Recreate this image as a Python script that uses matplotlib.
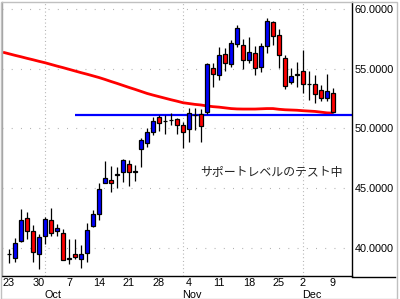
import matplotlib
matplotlib.use("Agg")
import matplotlib.pyplot as plt
from matplotlib.patches import Rectangle
from matplotlib.lines import Line2D
import matplotlib.transforms as mtransforms

plt.rcParams['font.family'] = ['Liberation Sans', 'DejaVu Sans']

# Trading days (Sep 23 2013 .. Dec 9 2013)
dates = ["09-23", "09-24", "09-25", "09-26", "09-27",
         "09-30", "10-01", "10-02", "10-03", "10-04",
         "10-07", "10-08", "10-09", "10-10", "10-11",
         "10-14", "10-15", "10-16", "10-17", "10-18",
         "10-21", "10-22", "10-23", "10-24", "10-25",
         "10-28", "10-29", "10-30", "10-31", "11-01",
         "11-04", "11-05", "11-06", "11-07", "11-08",
         "11-11", "11-12", "11-13", "11-14", "11-15",
         "11-18", "11-19", "11-20", "11-21", "11-22",
         "11-25", "11-26", "11-27", "11-29",
         "12-02", "12-03", "12-04", "12-05", "12-06",
         "12-09"]

opens = [39.45, 39.10, 40.53, 42.46, 41.37, 39.49, 41.00, 42.29, 41.42, 41.20,
         39.05, 39.49, 39.02, 39.52, 41.84, 42.79, 45.44, 45.67, 46.12, 46.36,
         46.98, 46.38, 48.24, 48.79, 49.66, 50.92, 50.59, 50.70, 50.75, 50.28,
         49.92, 51.10, 51.17, 51.34, 55.03, 54.44, 56.20, 55.36, 57.04, 56.96,
         55.70, 56.29, 55.11, 56.92, 58.89, 57.80, 55.87, 53.91, 54.48, 54.80,
         53.74, 53.71, 53.21, 52.51, 52.93]
highs = [39.86, 40.78, 43.21, 42.98, 41.90, 41.11, 42.59, 43.30, 41.95, 41.53,
         40.70, 40.70, 40.24, 42.04, 43.15, 45.39, 47.26, 46.84, 46.76, 47.40,
         47.34, 46.92, 49.21, 50.00, 50.92, 51.12, 51.12, 51.26, 50.84, 50.55,
         51.68, 51.68, 51.60, 55.50, 55.45, 56.79, 56.71, 57.40, 58.66, 57.46,
         57.63, 56.90, 57.12, 59.22, 59.02, 58.32, 56.14, 55.03, 55.58, 56.56,
         54.80, 54.47, 53.63, 54.55, 53.35]
lows = [38.74, 38.82, 40.45, 40.72, 38.82, 38.23, 40.33, 41.00, 41.00, 38.95,
        38.60, 39.07, 38.32, 38.82, 41.75, 42.31, 45.40, 44.69, 45.02, 45.52,
        45.19, 45.58, 46.78, 48.46, 49.44, 49.77, 49.50, 50.28, 49.50, 48.32,
        48.88, 49.86, 48.90, 51.17, 53.49, 54.05, 54.83, 55.11, 56.84, 54.97,
        55.45, 54.44, 54.74, 56.34, 56.96, 55.03, 53.27, 53.69, 53.49, 52.93,
        52.37, 52.10, 52.31, 52.31, 51.26]
closes = [39.49, 40.39, 42.29, 41.37, 39.61, 40.86, 42.37, 41.20, 41.62, 38.99,
          39.10, 39.24, 39.49, 41.45, 42.82, 44.89, 45.83, 45.44, 46.16, 47.34,
          46.36, 46.42, 49.02, 49.69, 50.59, 50.47, 50.63, 50.74, 50.25, 49.72,
          51.26, 51.14, 50.22, 55.36, 54.53, 56.12, 55.45, 57.12, 58.38, 55.70,
          56.37, 55.03, 56.87, 58.99, 57.71, 56.14, 53.52, 54.36, 54.52, 53.74,
          53.72, 52.85, 52.57, 53.13, 51.39]

# moving average (first value belongs to the trading day before Sep 23)
ma_prev = 56.38
ma = [56.25, 56.12, 56.00, 55.87, 55.75, 55.62, 55.50, 55.36, 55.22, 55.09,
      54.95, 54.81, 54.67, 54.54, 54.40, 54.26, 54.10, 53.93, 53.77, 53.60,
      53.43, 53.27, 53.10, 52.93, 52.79, 52.66, 52.53, 52.40, 52.28, 52.15,
      52.08, 52.01, 51.96, 51.88, 51.82, 51.78, 51.72, 51.66, 51.63, 51.62,
      51.62, 51.62, 51.64, 51.66, 51.66, 51.60, 51.56, 51.54, 51.52, 51.48,
      51.45, 51.42, 51.36, 51.30, 51.28]

support_level = 51.15
support_start = "10-08"

annotation = "サポートレベルのテスト中"
annotation_date = "11-06"
annotation_value = 46.34

week_labels = ["23", "30", "7", "14", "21", "28", "4", "11", "18", "25", "2", "9"]
week_dates = ["09-23", "09-30", "10-07", "10-14", "10-21", "10-28",
              "11-04", "11-11", "11-18", "11-25", "12-02", "12-09"]
month_labels = ["Oct", "Nov", "Dec"]
month_dates = ["10-01", "11-01", "12-02"]
y_ticks = [40, 45, 50, 55, 60]

W, H = 400, 299
fig = plt.figure(figsize=(W / 100, H / 100), dpi=100)
fig.patch.set_facecolor("white")
ax = fig.add_axes([2 / W, 1 - 276 / H, 350 / W, 274 / H])
ax.set_facecolor("white")

idx = {d: i for i, d in enumerate(dates)}
xs = list(range(len(dates)))

# grid
for v in y_ticks:
    ax.axhline(v, color="#a8a8a8", lw=0.8, ls=(0, (0.8, 7.5)), zorder=0)
for d in month_dates:
    ax.axvline(idx[d], color="#a8a8a8", lw=0.8, ls=(0, (0.8, 2.5)), zorder=0)

# moving average
ax.plot([-1] + xs, [ma_prev] + ma, color="#ff0000", lw=2.0, zorder=2,
        solid_capstyle="butt")

# support line
ax.hlines(support_level, idx[support_start], 60, color="#0000ff", lw=1.6, zorder=2)

# candles
bw = 0.72
for x, o, h, l, c in zip(xs, opens, highs, lows, closes):
    ax.vlines(x, l, h, color="black", lw=0.9, zorder=3)
    col = "#0000ff" if c >= o else "#ff0000"
    bot = min(o, c)
    ht = max(abs(c - o), 0.0001)
    ax.add_patch(Rectangle((x - bw / 2, bot), bw, ht, facecolor=col,
                           edgecolor="black", lw=0.9, zorder=4))

ax.text(idx[annotation_date] - 0.2, annotation_value, annotation, fontsize=8.6,
        family=["Noto Sans CJK JP", "DejaVu Sans"], color="#222222",
        va="center", ha="left", zorder=5)

ax.set_xlim(-1.17, 57.17)
ax.set_ylim(37.63, 60.59)

ax.yaxis.tick_right()
ax.set_yticks(y_ticks)
ax.set_yticklabels([f"{v:.4f}" for v in y_ticks], fontsize=7.8)
ax.tick_params(axis="y", length=0, pad=2)
ax.set_xticks([idx[d] for d in week_dates])
ax.set_xticklabels(week_labels, fontsize=7.8)
ax.tick_params(axis="x", length=0, pad=1.5)

trans = mtransforms.blended_transform_factory(ax.transData, ax.transAxes)
for lab, d in zip(month_labels, month_dates):
    ax.text(idx[d] - 0.1, -0.052, lab, transform=trans, fontsize=7.8,
            ha="left", va="top")

ax.spines["top"].set_visible(False)
ax.spines["left"].set_color("#a0a0a0")
ax.spines["right"].set_color("black")
ax.spines["bottom"].set_color("black")
for s in ["left", "right", "bottom"]:
    ax.spines[s].set_linewidth(1.0)

# extend bottom axis line to the right
yb = 1 - 276.5 / H
fig.add_artist(Line2D([352 / W, 395 / W], [yb, yb], color="black", lw=1.0))
# outer frame
fig.add_artist(Rectangle((0.5 / W, 0.5 / H), 396 / W, 297 / H, fill=False,
                         edgecolor="#c0c0c0", lw=1.0))

fig.savefig("out.png", dpi=100)
